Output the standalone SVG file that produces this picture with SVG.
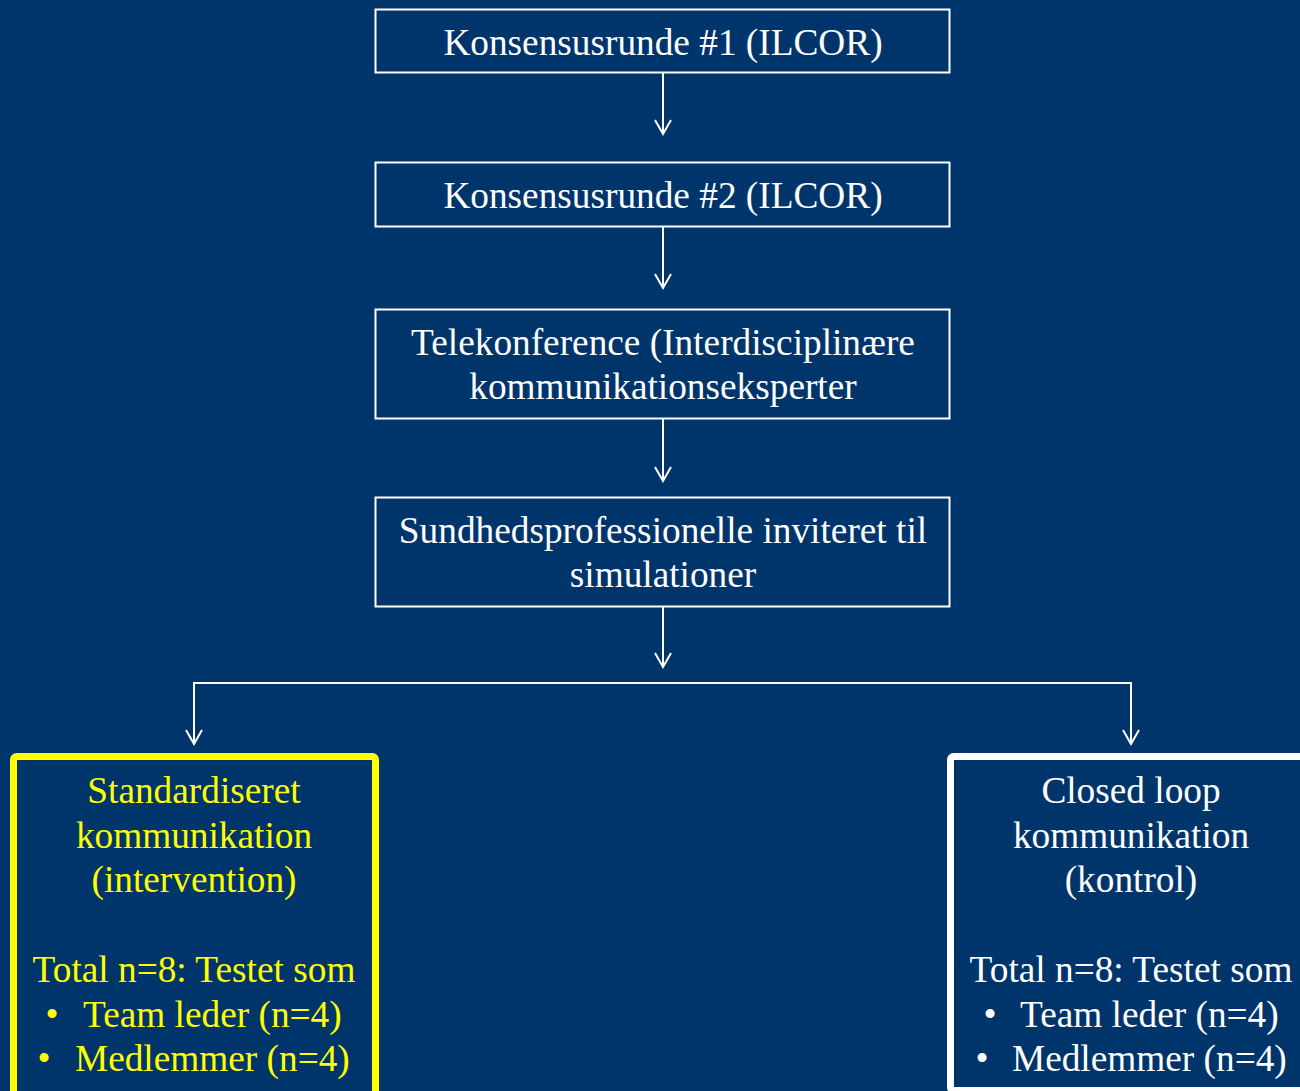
<svg xmlns="http://www.w3.org/2000/svg" width="1300" height="1091" viewBox="0 0 1300 1091">
<style>
.bg{fill:#00356B}
.box{fill:none;stroke:#fff;stroke-width:2}
.t{font-family:"Liberation Serif","Times New Roman",serif;font-size:37.3px;fill:#fff;text-anchor:middle}
.y{fill:#FFFF00}
.s{text-anchor:start}
.c{fill:none;stroke:#fff;stroke-width:2}
</style>
<rect class="bg" x="0" y="0" width="1300" height="1091"/>
<g id="connectors">
<line class="c" x1="663" y1="73" x2="663" y2="134"/>
<line class="c" x1="663" y1="227" x2="663" y2="288"/>
<line class="c" x1="663" y1="419" x2="663" y2="481"/>
<line class="c" x1="663" y1="607" x2="663" y2="667"/>
<polyline class="c" points="194,744 194,683 1131,683 1131,744"/>
<path class="c" d="M655,120 L663,134 L671,120 M655,274 L663,288 L671,274 M655,467 L663,481 L671,467 M655,653 L663,667 L671,653 M186,730 L194,744 L202,730 M1123,730 L1131,744 L1139,730"/>
</g>
<g id="n1">
<rect class="box" x="375.5" y="9.5" width="574" height="63"/>
<text class="t" x="663" y="55">Konsensusrunde #1 (ILCOR)</text>
</g>
<g id="n2">
<rect class="box" x="375.5" y="162.5" width="574" height="64"/>
<text class="t" x="663" y="208">Konsensusrunde #2 (ILCOR)</text>
</g>
<g id="n3">
<rect class="box" x="375.5" y="309.5" width="574" height="109"/>
<text class="t" x="663" y="355">Telekonference (Interdisciplinære</text>
<text class="t" x="663" y="399">kommunikationseksperter</text>
</g>
<g id="n4">
<rect class="box" x="375.5" y="497.5" width="574" height="109"/>
<text class="t" x="663" y="543">Sundhedsprofessionelle inviteret til</text>
<text class="t" x="663" y="587">simulationer</text>
</g>
<g id="n5">
<rect x="13.5" y="756.5" width="362" height="340" rx="3" fill="none" stroke="#FFFF00" stroke-width="7"/>
<text class="t y" x="194" y="803">Standardiseret</text>
<text class="t y" x="194" y="848">kommunikation</text>
<text class="t y" x="194" y="892">(intervention)</text>
<text class="t y" x="194" y="982">Total n=8: Testet som</text>
<text class="t y" x="52" y="1027">•</text>
<text class="t y s" x="83" y="1027">Team leder (n=4)</text>
<text class="t y" x="44" y="1071">•</text>
<text class="t y s" x="75" y="1071">Medlemmer (n=4)</text>
</g>
<g id="n6">
<rect x="950.5" y="756.5" width="380" height="334" rx="3" fill="none" stroke="#fff" stroke-width="7"/>
<text class="t" x="1131" y="803">Closed loop</text>
<text class="t" x="1131" y="848">kommunikation</text>
<text class="t" x="1131" y="892">(kontrol)</text>
<text class="t" x="1131" y="982">Total n=8: Testet som</text>
<text class="t" x="990" y="1027">•</text>
<text class="t s" x="1020" y="1027">Team leder (n=4)</text>
<text class="t" x="982" y="1071">•</text>
<text class="t s" x="1012" y="1071">Medlemmer (n=4)</text>
</g>
</svg>
